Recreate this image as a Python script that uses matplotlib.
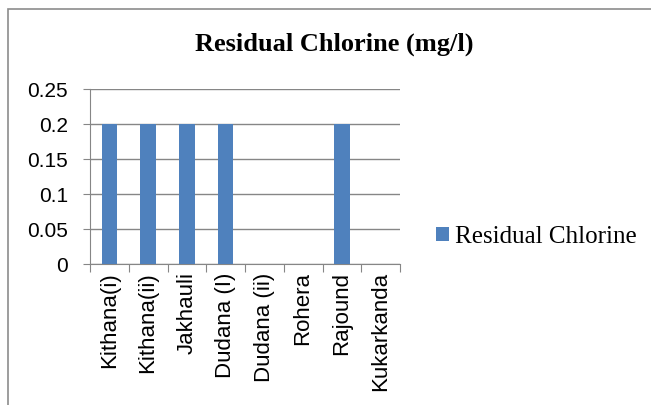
import matplotlib
matplotlib.use("Agg")
import matplotlib.pyplot as plt
from matplotlib.patches import Rectangle, Patch

categories = ["Kithana(i)", "Kithana(ii)", "Jakhauli", "Dudana (I)", "Dudana (ii)", "Rohera", "Rajound", "Kukarkanda"]
values = [0.2, 0.2, 0.2, 0.2, 0, 0, 0.2, 0]
yticks = [0, 0.05, 0.1, 0.15, 0.2, 0.25]
yticklabels = ["0", "0.05", "0.1", "0.15", "0.2", "0.25"]

W, H = 651, 405
fig = plt.figure(figsize=(W / 100, H / 100), dpi=100)

# outer chart frame
fig.add_artist(Rectangle((8 / W, -0.1), 1.2, 1 - 9 / H + 0.1, transform=fig.transFigure,
                         fill=False, edgecolor="#8c8c8c", linewidth=1.2))

left, right, top, bottom = 90, 400, 89, 264
ax = fig.add_axes([left / W, 1 - bottom / H, (right - left) / W, (bottom - top) / H])
x = list(range(len(categories)))
ax.bar(x, values, width=0.4, color="#4F81BD", zorder=3)
ax.set_xlim(-0.5, len(categories) - 0.5)
ax.set_ylim(0, 0.25)
ax.set_yticks(yticks)
ax.set_yticklabels(yticklabels, fontfamily="Liberation Sans", fontsize=15)
ax.yaxis.grid(True, color="#868686", linewidth=1)
ax.set_axisbelow(True)
for s in ["top", "right"]:
    ax.spines[s].set_visible(False)
for s in ["left", "bottom"]:
    ax.spines[s].set_color("#868686")
ax.tick_params(axis="y", length=5, color="#868686", pad=11)
ax.set_xticks([i - 0.5 for i in range(len(categories) + 1)], minor=False)
ax.set_xticklabels([])
ax.set_xticks(x, minor=True)
ax.set_xticklabels(categories, minor=True, rotation=90, fontfamily="Liberation Sans", fontsize=16)
ax.tick_params(axis="x", which="major", length=6, color="#868686")
ax.tick_params(axis="x", which="minor", length=0, pad=6)

fig.text(334 / W, 1 - 44 / H, "Residual Chlorine (mg/l)", ha="center", va="center",
         fontfamily="Liberation Serif", fontweight="bold", fontsize=19)

fig.legend(handles=[Patch(facecolor="#4F81BD", label="Residual Chlorine")],
           loc="center left", bbox_to_anchor=(436 / W, 1 - 237 / H), frameon=False,
           prop={"family": "Liberation Serif", "size": 18}, handlelength=0.5, handleheight=0.5,
           handletextpad=0.25, borderaxespad=0, borderpad=0)

fig.savefig("out.png", dpi=100)
